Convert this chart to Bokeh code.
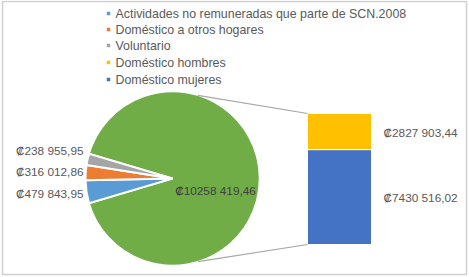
import math
from bokeh.plotting import figure
from bokeh.models import Range1d
from bokeh.core.properties import value
from bokeh.embed import file_html
from bokeh.resources import INLINE

# ---- data ----
pie_labels = ["Actividades no remuneradas  que parte de SCN.2008",
              "Doméstico a otros hogares", "Voluntario"]
pie_values = [479843.95, 316012.86, 238955.95]
pie_colors = ["#5B9BD5", "#ED7D31", "#A5A5A5"]

bar_labels = ["Doméstico hombres", "Doméstico mujeres"]
bar_values = [2827903.44, 7430516.02]
bar_colors = ["#FFC000", "#4472C4"]

other_color = "#70AD47"

legend_labels = pie_labels + bar_labels
legend_colors = pie_colors + bar_colors


def fmt(v):
    s = f"{v:.2f}"
    ip, dp = s.split(".")
    if len(ip) > 3:
        ip = ip[:-3] + " " + ip[-3:]
    return "₡" + ip + "," + dp


W, H = 469, 277
FONT = "Liberation Sans"
TXT = "#595959"

p = figure(width=W, height=H, x_range=Range1d(0, W), y_range=Range1d(0, H),
           output_backend="svg", toolbar_location=None, min_border=0)
p.axis.visible = False
p.grid.visible = False
p.outline_line_color = None
p.background_fill_color = "white"
p.border_fill_color = "white"


def sy(y):  # screen y -> data y
    return H - y


# frame
p.quad(left=[2], right=[466], top=[sy(1)], bottom=[sy(274)], fill_color=None,
       line_color="#D0D0D0", line_width=1.5)

# ---- pie ----
cx, cy, r = 172, sy(178), 87
other_total = sum(bar_values)
total = other_total + sum(pie_values)
span = sum(pie_values) / total * 2 * math.pi
a_top = math.pi + span / 2
starts, ends = [], []
cur = a_top
for v in pie_values:
    a = v / total * 2 * math.pi
    starts.append(cur - a)
    ends.append(cur)
    cur -= a

# main (other) slice
p.wedge(x=[cx], y=[cy], radius=r, start_angle=[a_top], end_angle=[math.pi - span / 2],
        fill_color=other_color, line_color="white", line_width=1.5)
p.wedge(x=[cx] * 3, y=[cy] * 3, radius=r, start_angle=starts, end_angle=ends,
        fill_color=pie_colors, line_color="white", line_width=2)

# ---- bar (stacked) through extra range ----
bar_bottom_px, bar_top_px = 244, 113
k = other_total / (bar_top_px - bar_bottom_px) * -1
y0 = -sy(bar_bottom_px) * k
p.extra_y_ranges = {"bar": Range1d(start=y0, end=y0 + H * k)}
mujeres = bar_values[1]
hombres = bar_values[0]
bx0, bx1 = 307, 371
p.quad(left=[bx0, bx0], right=[bx1, bx1], bottom=[0, mujeres], top=[mujeres, mujeres + hombres],
       fill_color=[bar_colors[1], bar_colors[0]], line_color="white", line_width=1,
       y_range_name="bar")

# connector lines
ang = math.radians(73)
p.segment(x0=[cx + r * math.cos(ang), cx + r * math.cos(ang)],
          y0=[cy + r * math.sin(ang), cy - r * math.sin(ang)],
          x1=[bx0, bx0], y1=[sy(bar_top_px), sy(bar_bottom_px)],
          line_color="#A6A6A6", line_width=1.2)

# ---- data labels ----
p.text(x=[83, 83, 83], y=[sy(150), sy(171), sy(193)],
       text=[fmt(v) for v in reversed(pie_values)],
       text_align="right", text_baseline="middle", text_font=value(FONT),
       text_font_size="11.8px", text_color=TXT)
p.text(x=[215], y=[sy(190)], text=[fmt(other_total)], text_align="center",
       text_baseline="middle", text_font=value(FONT), text_font_size="11.8px",
       text_color="#404040")
p.text(x=[383, 383], y=[sy(132), sy(197)], text=[fmt(hombres), fmt(mujeres)],
       text_align="left", text_baseline="middle", text_font=value(FONT),
       text_font_size="11.8px", text_color=TXT)

# ---- legend ----
ly = [13, 29, 45, 62, 79]
p.rect(x=[108] * 5, y=[sy(v) for v in ly], width=3.5, height=3.5, width_units="screen",
       height_units="screen", fill_color=legend_colors, line_color=None)
p.text(x=[115] * 5, y=[sy(v) for v in ly], text=legend_labels, text_align="left",
       text_baseline="middle", text_font=value(FONT), text_font_size="12.4px",
       text_color=TXT)

open("out.html", "w").write(file_html(p, INLINE))
